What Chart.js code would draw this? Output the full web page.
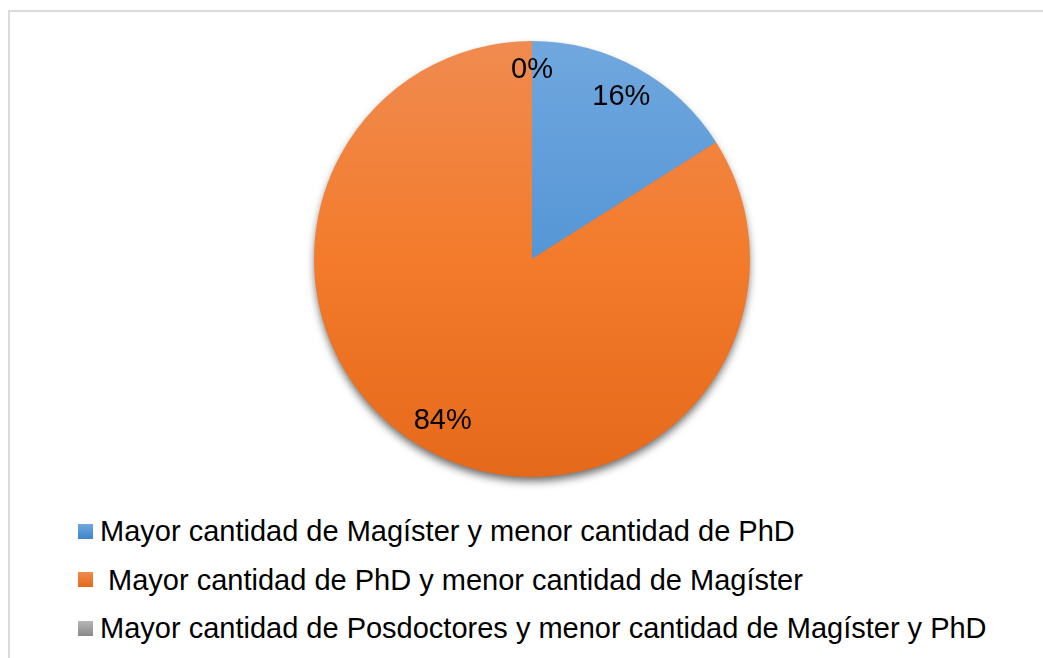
<!DOCTYPE html>
<html>
<head>
<meta charset="utf-8">
<script src="https://cdn.jsdelivr.net/npm/chart.js@4/dist/chart.umd.min.js"></script>
<style>
  html,body{margin:0;padding:0;background:#fff;width:1043px;height:658px;overflow:hidden;}
  #frame{position:absolute;left:8px;top:10px;width:1100px;height:700px;border-top:2px solid #dadada;border-left:2px solid #dadada;}
  #wrap{position:absolute;left:294px;top:21px;width:476px;height:476px;}
  #legend{position:absolute;left:78px;top:507px;font-family:"Liberation Sans",Arial,sans-serif;font-size:29px;color:#000;}
  .item{height:48.5px;line-height:36px;white-space:pre;display:flex;align-items:center;}
  .box{width:15px;height:15px;margin-right:7px;flex:none;}
</style>
</head>
<body>
<div id="frame"></div>
<div id="wrap"><canvas id="c"></canvas></div>
<div id="legend"></div>
<script>
const categories = [
  "Mayor cantidad de Magíster y menor cantidad de PhD",
  " Mayor cantidad de PhD y menor cantidad de Magíster",
  "Mayor cantidad de Posdoctores y menor cantidad de Magíster y PhD"
];
const values = [16, 84, 0];
const percentLabels = ["16%", "84%", "0%"];
const colorTop = ["#70a7de", "#f08b50", "#b5b5b5"];
const colorMid = ["#5596d6", "#f37b2b", "#a0a0a0"];
const colorBottom = ["#3f84cc", "#e5691a", "#8a8a8a"];

function grad(ctx, i, area) {
  const g = ctx.createLinearGradient(0, area.top, 0, area.bottom);
  g.addColorStop(0, colorTop[i]);
  g.addColorStop(0.5, colorMid[i]);
  g.addColorStop(1, colorBottom[i]);
  return g;
}

const shadowPlugin = {
  id: 'shadow',
  beforeDatasetsDraw(chart) {
    const arc = chart.getDatasetMeta(0).data[0];
    if (!arc) return;
    const ctx = chart.ctx;
    ctx.save();
    ctx.shadowColor = 'rgba(0,0,0,0.6)';
    ctx.shadowBlur = 9;
    ctx.shadowOffsetY = 5;
    ctx.fillStyle = '#e5691a';
    ctx.beginPath();
    ctx.arc(arc.x, arc.y, arc.outerRadius - 1, 0, Math.PI * 2);
    ctx.fill();
    ctx.restore();
  }
};

const labelPlugin = {
  id: 'pctLabels',
  afterDatasetsDraw(chart) {
    const ctx = chart.ctx;
    const meta = chart.getDatasetMeta(0);
    ctx.save();
    ctx.font = '29px "Liberation Sans", Arial, sans-serif';
    ctx.fillStyle = '#000';
    ctx.textAlign = 'center';
    ctx.textBaseline = 'middle';
    meta.data.forEach((arc, i) => {
      const p = arc.getProps(['x','y','startAngle','endAngle','outerRadius'], true);
      const mid = (p.startAngle + p.endAngle) / 2;
      const d = p.outerRadius * 0.85;
      let x = p.x + Math.cos(mid) * d;
      let y = p.y + Math.sin(mid) * d;
      if (values[i] === 0) { y -= 4; }
      ctx.fillText(percentLabels[i], x, y);
    });
    ctx.restore();
  }
};

new Chart(document.getElementById('c'), {
  type: 'pie',
  data: {
    labels: categories,
    datasets: [{
      data: values,
      backgroundColor: (c) => {
        const area = c.chart.chartArea;
        if (!area) return colorTop[c.dataIndex];
        return grad(c.chart.ctx, c.dataIndex, area);
      },
      borderWidth: 0
    }]
  },
  options: {
    responsive: true,
    maintainAspectRatio: false,
    animation: false,
    layout: { padding: 20 },
    plugins: { legend: { display: false }, tooltip: { enabled: false } }
  },
  plugins: [shadowPlugin, labelPlugin]
});

const leg = document.getElementById('legend');
categories.forEach((name, i) => {
  const it = document.createElement('div');
  it.className = 'item';
  const b = document.createElement('span');
  b.className = 'box';
  b.style.background = `linear-gradient(${colorTop[i]}, ${colorBottom[i]})`;
  const t = document.createElement('span');
  t.textContent = name;
  it.appendChild(b); it.appendChild(t);
  leg.appendChild(it);
});
</script>
</body>
</html>
